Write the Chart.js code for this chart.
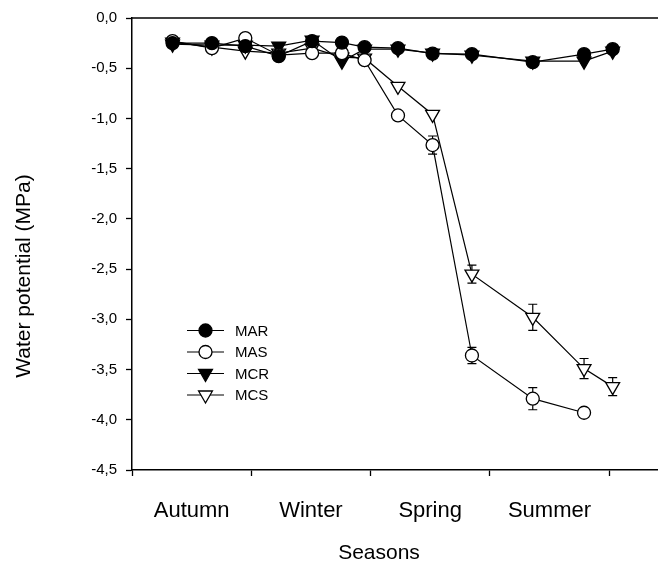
<!DOCTYPE html>
<html>
<head>
<meta charset="utf-8">
<script src="https://cdn.jsdelivr.net/npm/chart.js@4/dist/chart.umd.min.js"></script>
<style>
html,body{margin:0;padding:0;background:#fff;}
#wrap{width:658px;height:562px;position:relative;}
</style>
</head>
<body>
<div id="wrap"><canvas id="c" width="658" height="562"></canvas></div>
<script>
// ---- data ----
const seasons = ['Autumn', 'Winter', 'Spring', 'Summer'];
const sampleTimes = [0.34, 0.67, 0.95, 1.23, 1.51, 1.76, 1.95, 2.23, 2.52, 2.85, 3.36, 3.79, 4.03];
const mar = [-0.25, -0.25, -0.28, -0.38, -0.23, -0.245, -0.29, -0.30, -0.355, -0.36, -0.44, -0.36, -0.31];
const mas = [-0.23, -0.30, -0.20, -0.37, -0.35, -0.35, -0.42, -0.97, -1.265, -3.36, -3.79, -3.93, null];
const mcr = [-0.26, -0.27, -0.27, -0.28, -0.22, -0.43, -0.31, -0.31, -0.35, -0.37, -0.43, -0.43, -0.33];
const mcs = [-0.24, -0.29, -0.33, -0.35, -0.30, -0.39, -0.40, -0.68, -0.96, -2.55, -2.98, -3.49, -3.67];
const masErr = [null, null, null, null, null, null, null, null, 0.09, 0.08, 0.11, null, null];
const mcsErr = [null, null, null, null, null, null, null, null, null, 0.09, 0.13, 0.10, 0.09];
const yTicks = [0, -0.5, -1, -1.5, -2, -2.5, -3, -3.5, -4, -4.5];

const FONT = '"Liberation Sans", Arial, sans-serif';

function pts(arr) {
  return sampleTimes.map((t, i) => ({x: t, y: arr[i]})).filter(p => p.y !== null);
}
function ds(label, arr, style, fill, radius, errs) {
  return {
    label: label,
    data: pts(arr),
    errors: errs,
    raw: arr,
    borderColor: '#000',
    borderWidth: 1.2,
    pointStyle: style,
    pointRotation: style === 'triangle' ? 180 : 0,
    pointRadius: radius,
    pointHoverRadius: radius,
    pointBackgroundColor: fill,
    pointBorderColor: '#000',
    pointBorderWidth: 1.3,
    fill: false,
    tension: 0,
    clip: false
  };
}

const datasets = [
  ds('MAR', mar, 'circle', '#000', 6.5, null),
  ds('MAS', mas, 'circle', '#fff', 6.5, masErr),
  ds('MCR', mcr, 'triangle', '#000', 8, null),
  ds('MCS', mcs, 'triangle', '#fff', 8, mcsErr)
];

const errorBars = {
  id: 'errorBars',
  beforeDatasetsDraw(chart) {
    const ctx = chart.ctx, xs = chart.scales.x, ys = chart.scales.y;
    ctx.save();
    ctx.strokeStyle = '#000';
    ctx.lineWidth = 1.2;
    chart.data.datasets.forEach(d => {
      if (!d.errors) return;
      d.errors.forEach((e, i) => {
        if (e === null || d.raw[i] === null) return;
        const x = xs.getPixelForValue(sampleTimes[i]);
        const yt = ys.getPixelForValue(d.raw[i] + e);
        const yb = ys.getPixelForValue(d.raw[i] - e);
        ctx.beginPath();
        ctx.moveTo(x, yt); ctx.lineTo(x, yb);
        ctx.moveTo(x - 4.5, yt); ctx.lineTo(x + 4.5, yt);
        ctx.moveTo(x - 4.5, yb); ctx.lineTo(x + 4.5, yb);
        ctx.stroke();
      });
    });
    ctx.restore();
  }
};

const extras = {
  id: 'extras',
  afterDraw(chart) {
    const ctx = chart.ctx, a = chart.chartArea;
    ctx.save();
    // top frame line
    ctx.strokeStyle = '#000';
    ctx.lineWidth = 1.5;
    ctx.beginPath();
    ctx.moveTo(a.left, a.top);
    ctx.lineTo(a.right, a.top);
    ctx.stroke();
    // legend
    const rows = [330.5, 352, 373.5, 395];
    chart.data.datasets.forEach((d, i) => {
      const y = rows[i];
      ctx.strokeStyle = '#000';
      ctx.lineWidth = 1.2;
      ctx.beginPath();
      ctx.moveTo(187, y); ctx.lineTo(224, y);
      ctx.stroke();
      ctx.fillStyle = d.pointBackgroundColor;
      ctx.strokeStyle = '#000';
      ctx.lineWidth = d.pointBorderWidth;
      Chart.helpers.drawPoint(ctx, {pointStyle: d.pointStyle, rotation: d.pointRotation, radius: d.pointRadius, borderWidth: d.pointBorderWidth}, 205.5, y);
      ctx.fillStyle = '#000';
      ctx.font = '15px ' + FONT;
      ctx.textAlign = 'left';
      ctx.textBaseline = 'middle';
      ctx.fillText(d.label, 235, y + 1);
    });
    // axis titles
    ctx.fillStyle = '#000';
    ctx.font = '21px ' + FONT;
    ctx.textAlign = 'center';
    ctx.textBaseline = 'middle';
    ctx.fillText('Seasons', 379, 553);
    ctx.translate(24, 276);
    ctx.rotate(-Math.PI / 2);
    ctx.fillText('Water potential (MPa)', 0, 0);
    ctx.restore();
  }
};

new Chart(document.getElementById('c'), {
  type: 'line',
  data: {datasets: datasets},
  options: {
    responsive: false,
    animation: false,
    events: [],
    layout: {autoPadding: false, padding: {top: 17, right: 0, bottom: 0, left: 0}},
    plugins: {legend: {display: false}, tooltip: {enabled: false}},
    scales: {
      x: {
        type: 'linear',
        min: 0,
        max: 4.41,
        afterBuildTicks(scale) {
          const t = [];
          for (let i = 0; i <= seasons.length; i++) {
            t.push({value: i});
            if (i < seasons.length) t.push({value: i + 0.5});
          }
          scale.ticks = t;
        },
        afterFit(scale) { scale.height = 92; scale.paddingRight = 0; scale.paddingLeft = 0; },
        ticks: {
          autoSkip: false,
          maxRotation: 0,
          color: '#000',
          padding: 22,
          font: {family: FONT, size: 22},
          callback(v) {
            const k = v - 0.5;
            return Number.isInteger(k) ? seasons[k] : '';
          }
        },
        grid: {
          drawOnChartArea: false,
          tickLength: 6,
          tickWidth: 1.3,
          tickColor: ctx => Number.isInteger(ctx.tick.value) ? '#000' : 'rgba(0,0,0,0)'
        },
        border: {color: '#000', width: 1.5}
      },
      y: {
        type: 'linear',
        min: -4.5,
        max: 0,
        afterBuildTicks(scale) { scale.ticks = yTicks.map(v => ({value: v})); },
        afterFit(scale) { scale.width = 132; },
        ticks: {
          color: '#000',
          padding: 9,
          font: {family: FONT, size: 15},
          callback(v) { return v.toFixed(1).replace('.', ','); }
        },
        grid: {drawOnChartArea: false, tickLength: 6, tickWidth: 1.3, tickColor: '#000'},
        border: {color: '#000', width: 1.5}
      }
    }
  },
  plugins: [errorBars, extras]
});
</script>
</body>
</html>
